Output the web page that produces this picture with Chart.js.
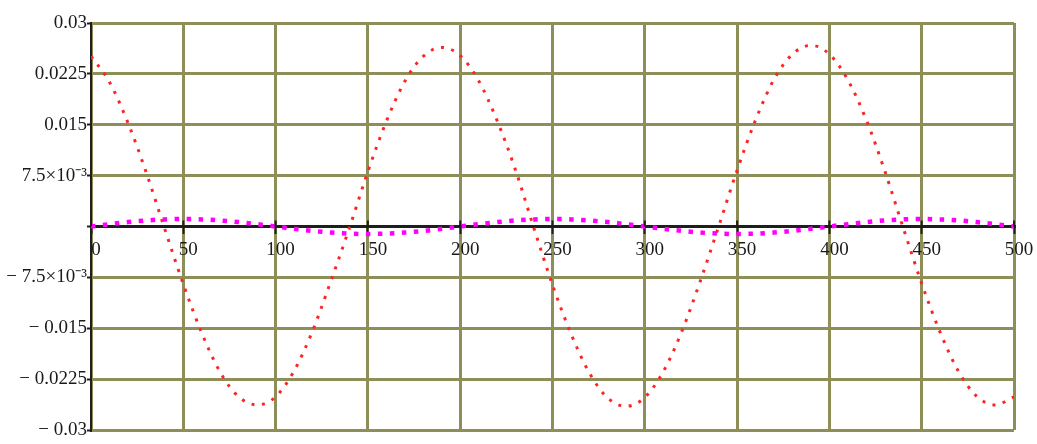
<!DOCTYPE html>
<html>
<head>
<meta charset="utf-8">
<script src="https://cdn.jsdelivr.net/npm/chart.js@4.4.1/dist/chart.umd.min.js"></script>
<style>
  html, body { margin: 0; padding: 0; background: #fff; }
  #wrap { width: 1037px; height: 444px; position: relative; }
</style>
</head>
<body>
<div id="wrap"><canvas id="plot"></canvas></div>
<script>
// x positions of the samples (same for both traces)
const xs = [0, 10, 20, 30, 40, 50, 60, 70, 80, 90,
            100, 110, 120, 130, 140, 150, 160, 170, 180, 190,
            200, 210, 220, 230, 240, 250, 260, 270, 280, 290,
            300, 310, 320, 330, 340, 350, 360, 370, 380, 390,
            400, 410, 420, 430, 440, 450, 460, 470, 480, 490, 500];

// red dotted trace
const redValues = [0.0251, 0.0213, 0.0153, 0.0079, -0.0004, -0.0085, -0.0157, -0.0215, -0.0251, -0.0263,
                   -0.0251, -0.0213, -0.0154, -0.0080, -0.0002, 0.0081, 0.0155, 0.0214, 0.0251, 0.0264,
                   0.0252, 0.0215, 0.0156, 0.0083, -0.0003, -0.0086, -0.0158, -0.0216, -0.0253, -0.0265,
                   -0.0252, -0.0214, -0.0155, -0.0081, 0.0000, 0.0083, 0.0157, 0.0217, 0.0254, 0.0267,
                   0.0254, 0.0216, 0.0157, 0.0082, -0.0002, -0.0084, -0.0156, -0.0214, -0.0251, -0.0263, -0.0251];

// magenta dotted trace (small wave near zero)
const magentaValues = [0, 0.00034, 0.00065, 0.00089, 0.00105, 0.0011, 0.00105, 0.00089, 0.00065, 0.00034,
                       0, -0.00034, -0.00065, -0.00089, -0.00105, -0.0011, -0.00105, -0.00089, -0.00065, -0.00034,
                       0, 0.00034, 0.00065, 0.00089, 0.00105, 0.0011, 0.00105, 0.00089, 0.00065, 0.00034,
                       0, -0.00034, -0.00065, -0.00089, -0.00105, -0.0011, -0.00105, -0.00089, -0.00065, -0.00034,
                       0, 0.00034, 0.00065, 0.00089, 0.00105, 0.0011, 0.00105, 0.00089, 0.00065, 0.00034, 0];

const xTicks = [0, 50, 100, 150, 200, 250, 300, 350, 400, 450, 500];
const xTickLabels = ['0', '50', '100', '150', '200', '250', '300', '350', '400', '450', '500'];
const yTicks = [-0.03, -0.0225, -0.015, -0.0075, 0, 0.0075, 0.015, 0.0225, 0.03];
const yTickLabels = ['\u2212 0.03', '\u2212 0.0225', '\u2212 0.015', '\u2212 7.5\u00d710\u207b\u00b3', '',
                     '7.5\u00d710\u207b\u00b3', '0.015', '0.0225', '0.03'];

const gridColor = '#8e8e58';
const axisColor = '#1e1e1e';
const labelFont = { family: '"Liberation Serif", "Times New Roman", serif', size: 19 };

// short tick stubs above the x axis (Mathcad draws them on both sides)
const upTicks = {
    id: 'upTicks',
    afterDraw(chart) {
        const ctx = chart.ctx;
        const x = chart.scales.x, y = chart.scales.y;
        const y0 = y.getPixelForValue(0);
        ctx.save();
        ctx.strokeStyle = axisColor;
        ctx.lineWidth = 2;
        xTicks.forEach(v => {
            const px = x.getPixelForValue(v);
            ctx.beginPath();
            ctx.moveTo(px, y0);
            ctx.lineTo(px, y0 - 6);
            ctx.stroke();
        });
        ctx.restore();
    }
};

new Chart(document.getElementById('plot').getContext('2d'), {
    type: 'line',
    data: {
        datasets: [{
            label: 'magenta',
            data: xs.map((x, i) => ({ x: x, y: magentaValues[i] })),
            borderColor: '#ff00ff',
            borderWidth: 4.5,
            borderDash: [4.5, 7.5],
            pointRadius: 0,
            cubicInterpolationMode: 'monotone',
            order: 1
        }, {
            label: 'red',
            data: xs.map((x, i) => ({ x: x, y: redValues[i] })),
            borderColor: '#ff2424',
            borderWidth: 3,
            borderDash: [3, 7.5],
            pointRadius: 0,
            cubicInterpolationMode: 'monotone',
            order: 2
        }]
    },
    options: {
        responsive: true,
        maintainAspectRatio: false,
        animation: false,
        layout: { padding: { left: 0, top: 23, right: 23, bottom: 14 } },
        plugins: { legend: { display: false }, tooltip: { enabled: false } },
        scales: {
            x: {
                type: 'linear',
                min: 0,
                max: 500,
                position: { y: 0 },
                afterBuildTicks: scale => { scale.ticks = xTicks.map(v => ({ value: v })); },
                ticks: {
                    callback: (v, i) => xTickLabels[i],
                    font: labelFont,
                    color: '#1a1a1a',
                    padding: 6,
                    labelOffset: 5,
                    maxRotation: 0,
                    autoSkip: false
                },
                grid: { color: gridColor, lineWidth: 3, tickColor: axisColor, tickLength: 6, tickWidth: 2 },
                border: { color: axisColor, width: 3 }
            },
            y: {
                min: -0.03,
                max: 0.03,
                afterBuildTicks: scale => { scale.ticks = yTicks.map(v => ({ value: v })); },
                afterFit: scale => { scale.width = 91; },
                ticks: {
                    callback: (v, i) => yTickLabels[i],
                    font: labelFont,
                    color: '#1a1a1a',
                    padding: 0,
                    autoSkip: false
                },
                grid: { color: gridColor, lineWidth: 3, tickColor: axisColor, tickLength: 4, tickWidth: 2 },
                border: { color: axisColor, width: 2 }
            }
        }
    },
    plugins: [upTicks]
});
</script>
</body>
</html>
